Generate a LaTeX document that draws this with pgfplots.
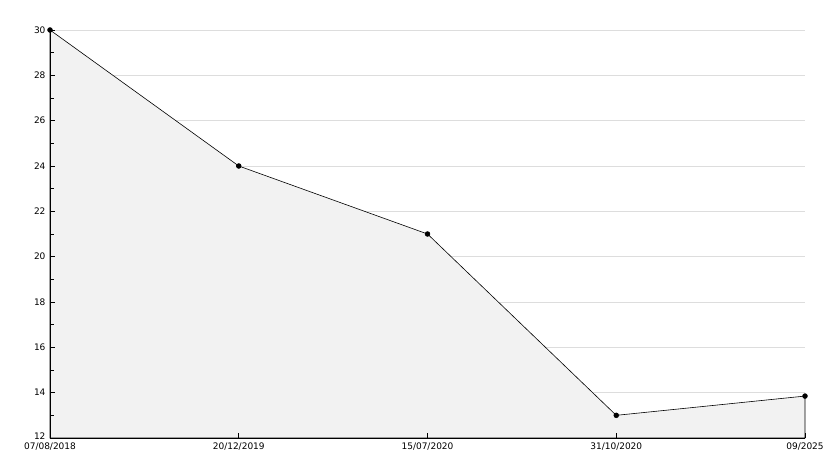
\documentclass[border=0pt]{standalone}
\usepackage{fontspec}
\setmainfont{DejaVu Sans}
\usepackage{pgfplots}
\pgfplotsset{compat=1.18}
\definecolor{gridc}{HTML}{DDDDDD}
\definecolor{fillc}{HTML}{F2F2F2}
\begin{document}
\begin{tikzpicture}
\path (0,0) rectangle (834pt,468pt);
\begin{axis}[
  at={(50pt,30pt)}, anchor=south west,
  scale only axis, width=755pt, height=408pt,
  xmin=0, xmax=4, ymin=12, ymax=30,
  axis x line=bottom, axis y line=left,
  axis line style={-, line width=0.8pt},
  axis on top,
  xtick={0,1,2,3,4},
  xticklabels={07/08/2018,20/12/2019,15/07/2020,31/10/2020,09/2025},
  ytick={12,14,...,30},
  yticklabels={\raisebox{3pt}{12},14,16,18,20,22,24,26,28,30},
  minor ytick={13,15,...,29},
  tick align=inside,
  major tick length=5pt, minor tick length=4pt,
  tick style={black, line width=0.6pt},
  tick label style={font=\fontsize{9}{10}\selectfont},
  /pgf/number format/assume math mode=true,
  xticklabel style={yshift=-1pt},
  yticklabel style={xshift=-1pt},
  clip=false,
]
\foreach \g in {14,16,...,30} {
  \edef\tmp{\noexpand\draw[gridc, line width=0.6pt] (axis cs:0,\g) -- (axis cs:4,\g);}
  \tmp
}
\addplot[draw=black, fill=fillc, line width=0.6pt, mark=*, mark size=2.4pt, mark options={fill=black}]
  coordinates {(0,30) (1,24) (2,21) (3,13) (4,13.85)} \closedcycle;
\end{axis}
\end{tikzpicture}
\end{document}
